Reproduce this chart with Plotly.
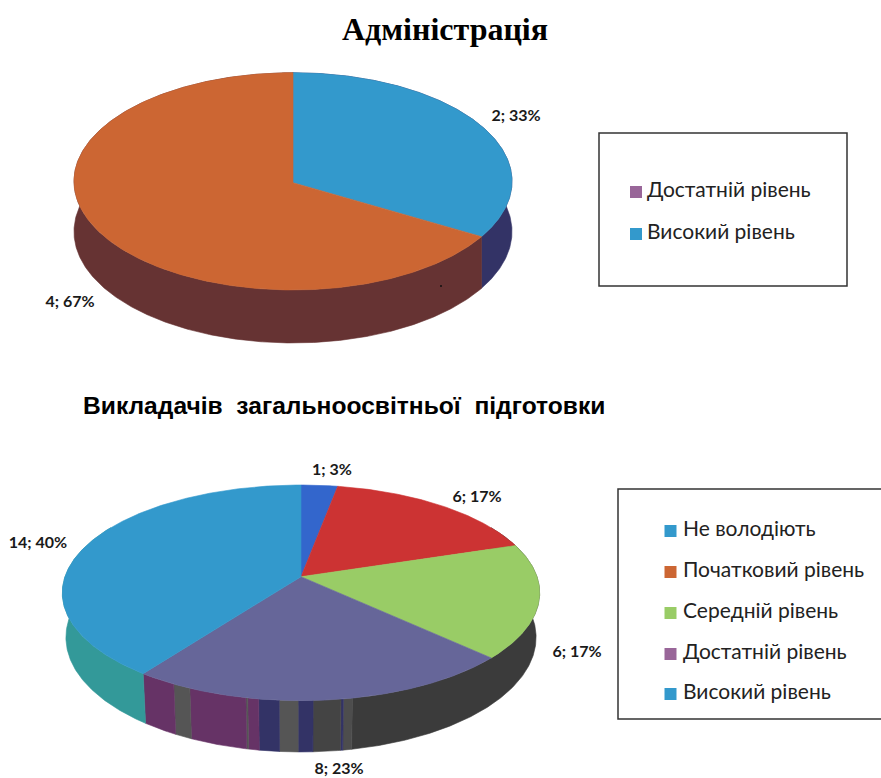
import numpy as np
import plotly.graph_objects as go

# ---- data ----
admin_labels = ["Високий рівень", "Достатній рівень"]
admin_values = [2, 4]
admin_colors = ["#3399CC", "#CC6633"]

teach_labels = ["Не володіють", "Початковий рівень", "Середній рівень", "Достатній рівень", "Високий рівень"]
teach_values = [1, 6, 6, 8, 14]
teach_colors = ["#3366CC", "#CC3333", "#99CC66", "#666699", "#3399CC"]

admin_legend_labels = ["Достатній рівень", "Високий рівень"]
admin_legend_colors = ["#996699", "#3399CC"]
teach_legend_colors = ["#3399CC", "#CC6633", "#99CC66", "#996699", "#3399CC"]

title_top = "Адміністрація"
title_bottom = "Викладачів  загальноосвітньої  підготовки"

# side-wall bands: (start angle, end angle, colour), clockwise from 12 o'clock
admin_wall = [(0, 120, "#333366"), (120, 360, "#663333")]
teach_wall = [
    (60, 169.3, "#3B3B3B"), (169.3, 171.2, "#4D4D4D"), (171.2, 171.7, "#333366"),
    (171.7, 177.5, "#444444"), (177.5, 180.6, "#333366"), (180.6, 184.5, "#555555"),
    (184.5, 188.8, "#333366"), (188.8, 191.1, "#663366"), (191.1, 191.5, "#555555"),
    (191.5, 204.0, "#663366"), (204.0, 207.9, "#555555"), (207.9, 216.0, "#663366"),
    (216.0, 300, "#339999"),
]

# pie geometry (projection of a disc seen in slight perspective)
admin_geo = dict(cx=293, cy=182.7, A=219, B=108.6, k=-0.0124, depth=50.3, xs=1.0, ys=1.025)
teach_geo = dict(cx=301, cy=576.7, A=236, B=105.4, k=0.1496, depth=43.5, xs=0.985, ys=1.063)


def rim(geo, deg, lower=False):
    t = np.radians(deg)
    u, v = np.sin(t), np.cos(t)
    w = 1 + geo["k"] * v
    sx = geo["xs"] if lower else 1.0
    sy = geo["ys"] if lower else 1.0
    x = geo["cx"] + sx * geo["A"] * u / w
    y = geo["cy"] - sy * geo["B"] * v / w
    if lower:
        y = y + geo["depth"]
    return x, y


def poly(xs, ys, color, name):
    return go.Scatter(x=xs, y=ys, mode="lines", fill="toself", fillcolor=color,
                      line=dict(color=color, width=0.6), hoverinfo="text", text=name,
                      showlegend=False)


def add_pie(fig, geo, values, colors, labels, wall):
    for a0, a1, col in wall:
        th = np.linspace(a0, a1, max(int(a1 - a0) * 2, 2))
        x1, y1 = rim(geo, th)
        x2, y2 = rim(geo, th[::-1], lower=True)
        fig.add_trace(poly(np.r_[x1, x2, x1[0]], np.r_[y1, y2, y1[0]], col, "wall"))
    total = sum(values)
    start = 0.0
    for val, col, lab in zip(values, colors, labels):
        end = start + 360.0 * val / total
        th = np.linspace(start, end, max(int(end - start) * 2, 3))
        x, y = rim(geo, th)
        fig.add_trace(poly(np.r_[geo["cx"], x, geo["cx"]], np.r_[geo["cy"], y, geo["cy"]], col, lab))
        start = end


def data_labels(fig, values, spots):
    total = sum(values)
    fig.add_trace(go.Scatter(
        x=[p[0] for p in spots], y=[p[1] for p in spots], mode="text",
        text=[f"{v}; {round(100 * v / total)}%" for v in values],
        textposition="middle center",
        textfont=dict(family="Lato, Noto Sans, sans-serif", size=16, color="#1a1a1a", weight="bold"),
        hoverinfo="skip", showlegend=False))


def legend(fig, x, text_x, ys, labels, colors):
    fig.add_trace(go.Scatter(
        x=[x] * len(labels), y=ys, mode="markers",
        marker=dict(symbol="square", size=12, color=colors),
        hoverinfo="skip", showlegend=False))
    fig.add_trace(go.Scatter(
        x=[text_x] * len(labels), y=ys, mode="text",
        text=labels, textposition="middle right",
        textfont=dict(family="Lato, Noto Sans, sans-serif", size=21, color="#222222"),
        hoverinfo="skip", showlegend=False))


fig = go.Figure()
add_pie(fig, admin_geo, admin_values, admin_colors, admin_labels, admin_wall)
add_pie(fig, teach_geo, teach_values, teach_colors, teach_labels, teach_wall)
data_labels(fig, admin_values, [(516, 116.5), (70, 303)])
data_labels(fig, teach_values, [(332, 471), (477, 498), (577, 653), (339, 770), (38, 544)])
legend(fig, 636, 647, [192, 234], admin_legend_labels, admin_legend_colors)
legend(fig, 670.5, 683, [531, 572, 613, 654, 694], teach_labels, teach_legend_colors)

box = dict(type="rect", xref="x", yref="y", line=dict(color="#333333", width=1.5), fillcolor="rgba(0,0,0,0)", layer="below")
fig.update_layout(
    width=881, height=778, margin=dict(l=0, r=0, t=0, b=0),
    autosize=False,
    paper_bgcolor="white", plot_bgcolor="white", showlegend=False,
    xaxis=dict(range=[0, 881], visible=False, fixedrange=True),
    yaxis=dict(range=[778, 0], visible=False, fixedrange=True),
    shapes=[
        dict(box, x0=599, x1=847, y0=133, y1=286),
        dict(box, x0=618, x1=890, y0=489, y1=719),
        dict(type="circle", xref="x", yref="y", x0=440, x1=442, y0=285, y1=287,
             fillcolor="#111111", line=dict(width=0)),
    ],
    annotations=[
        dict(x=445, y=29, xref="x", yref="y", text=f"<b>{title_top}</b>", showarrow=False,
             font=dict(family="Liberation Serif, serif", size=32, color="black")),
        dict(x=343.5, y=405.5, xref="x", yref="y", text=f"<b>{title_bottom}</b>", showarrow=False,
             font=dict(family="Liberation Sans, sans-serif", size=24.6, color="black")),
    ],
)
fig.write_html("out.html", config={"displayModeBar": False},
               post_script="document.body.style.margin='0';document.body.style.overflow='hidden';")
